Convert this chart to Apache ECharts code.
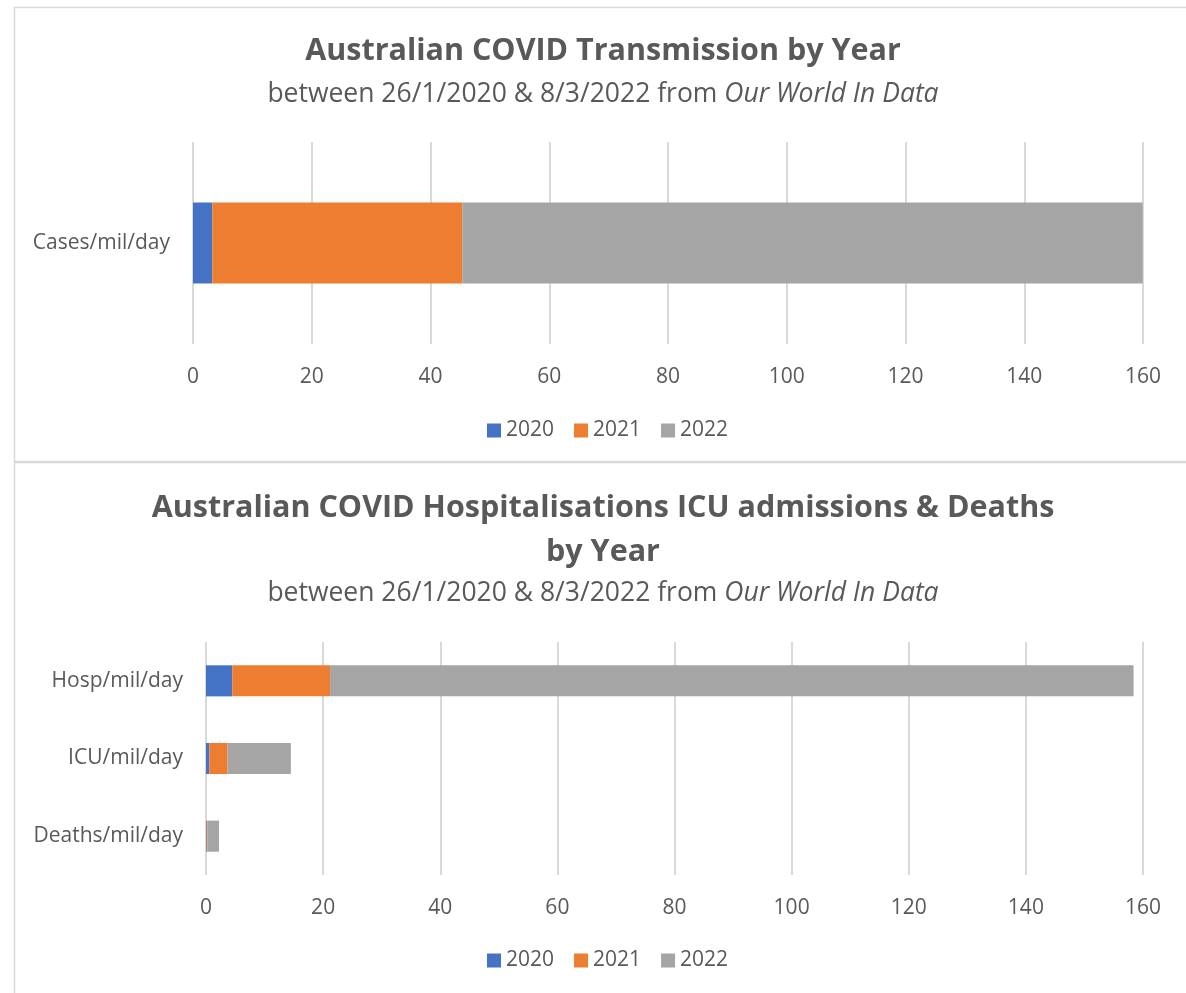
<!DOCTYPE html>
<html>
<head>
<meta charset="utf-8">
<script src="https://cdn.jsdelivr.net/npm/echarts@6/dist/echarts.min.js"></script>
<style>
	html, body { margin: 0; padding: 0; background: #fff; }
	#chart-covid-div { width: 1186px; height: 993px; }
</style>
</head>
<body>
<div id="chart-covid-div"></div>
<script>
// 年份
g_years = ["2020", "2021", "2022"];

// 传播图数据
g_cases_categories = ["Cases/mil/day"];
g_cases_2020 = [3.25];
g_cases_2021 = [42.1];
g_cases_2022 = [114.6];

// 住院/ICU/死亡数据
g_hosp_categories = ["Hosp/mil/day", "ICU/mil/day", "Deaths/mil/day"];
g_hosp_2020 = [4.48, 0.56, 0.12];
g_hosp_2021 = [16.71, 3.13, 0.15];
g_hosp_2022 = [137.2, 10.8, 1.95];

// 刻度
g_tick_min = 0;
g_tick_max = 160;
g_tick_step = 20;

g_colors = ["#4472C4", "#ED7D31", "#A5A5A5"];
g_text_color = "#595959";
g_grid_color = "#d9d9d9";
g_font = "'Open Sans', sans-serif";

// 面板中心比画布中心偏右约10px
g_center_x = 598;

// 粗体标题
function make_title(text, top) {
	return {
		text: text,
		left: g_center_x,
		textAlign: "center",
		top: top,
		textStyle: {
			fontFamily: g_font,
			fontSize: 30.5,
			fontWeight: "bold",
			color: g_text_color
		}
	};
}

// 副标题（斜体部分用rich）
function make_subtitle(top) {
	return {
		text: "between 26/1/2020 & 8/3/2022 from {i|Our World In Data}",
		left: g_center_x,
		textAlign: "center",
		top: top,
		textStyle: {
			fontFamily: g_font,
			fontSize: 26.5,
			fontWeight: "normal",
			color: g_text_color,
			rich: {
				i: {
					fontFamily: g_font,
					fontSize: 26.5,
					fontStyle: "italic",
					color: g_text_color
				}
			}
		}
	};
}

function make_x_axis(grid_index) {
	return {
		type: "value",
		gridIndex: grid_index,
		min: g_tick_min,
		max: g_tick_max,
		interval: g_tick_step,
		axisLine: { show: false },
		axisTick: { show: false },
		splitLine: { lineStyle: { color: g_grid_color, width: 2 } },
		axisLabel: {
			margin: 23,
			fontFamily: g_font,
			fontSize: 21,
			color: g_text_color
		}
	};
}

function make_y_axis(grid_index, data) {
	return {
		type: "category",
		gridIndex: grid_index,
		data: data,
		inverse: true,
		axisLine: { show: false },
		axisTick: { show: false },
		axisLabel: {
			margin: 23,
			fontFamily: g_font,
			fontSize: 21,
			color: g_text_color
		}
	};
}

function make_legend(top) {
	return {
		data: g_years,
		left: 482,
		top: top,
		itemWidth: 14,
		itemHeight: 14,
		itemGap: 20,
		icon: "rect",
		textStyle: {
			fontFamily: g_font,
			fontSize: 21,
			color: g_text_color
		}
	};
}

function make_series(name, idx, data, axis, stack) {
	return {
		name: name,
		type: "bar",
		stack: stack,
		xAxisIndex: axis,
		yAxisIndex: axis,
		barWidth: "40%",
		data: data,
		itemStyle: { color: g_colors[idx] }
	};
}

g_chart_covid_option = {
	animation: false,
	color: g_colors,
	// 两个面板的边框
	graphic: [
		{
			type: "rect",
			shape: { x: 14.5, y: 7.5, width: 1200, height: 454 },
			style: { fill: "none", stroke: g_grid_color, lineWidth: 1.5 },
			silent: true
		},
		{
			type: "rect",
			shape: { x: 14.5, y: 462.5, width: 1200, height: 600 },
			style: { fill: "none", stroke: g_grid_color, lineWidth: 1.5 },
			silent: true
		}
	],
	title: [
		make_title("Australian COVID Transmission by Year", 31),
		make_subtitle(76),
		make_title("Australian COVID Hospitalisations ICU admissions & Deaths", 488),
		make_title("by Year", 532),
		make_subtitle(575)
	],
	legend: [make_legend(415), make_legend(945)],
	grid: [
		{ left: 193, right: 43, top: 142, height: 202 },
		{ left: 206, right: 43, top: 642, height: 233 }
	],
	xAxis: [make_x_axis(0), make_x_axis(1)],
	yAxis: [
		make_y_axis(0, g_cases_categories),
		make_y_axis(1, g_hosp_categories)
	],
	series: [
		make_series(g_years[0], 0, g_cases_2020, 0, "cases"),
		make_series(g_years[1], 1, g_cases_2021, 0, "cases"),
		make_series(g_years[2], 2, g_cases_2022, 0, "cases"),
		make_series(g_years[0], 0, g_hosp_2020, 1, "hosp"),
		make_series(g_years[1], 1, g_hosp_2021, 1, "hosp"),
		make_series(g_years[2], 2, g_hosp_2022, 1, "hosp")
	]
};

g_chart_covid = echarts.init(document.getElementById("chart-covid-div"));
g_chart_covid.setOption(g_chart_covid_option);
window.addEventListener("resize", g_chart_covid.resize);
</script>
</body>
</html>
